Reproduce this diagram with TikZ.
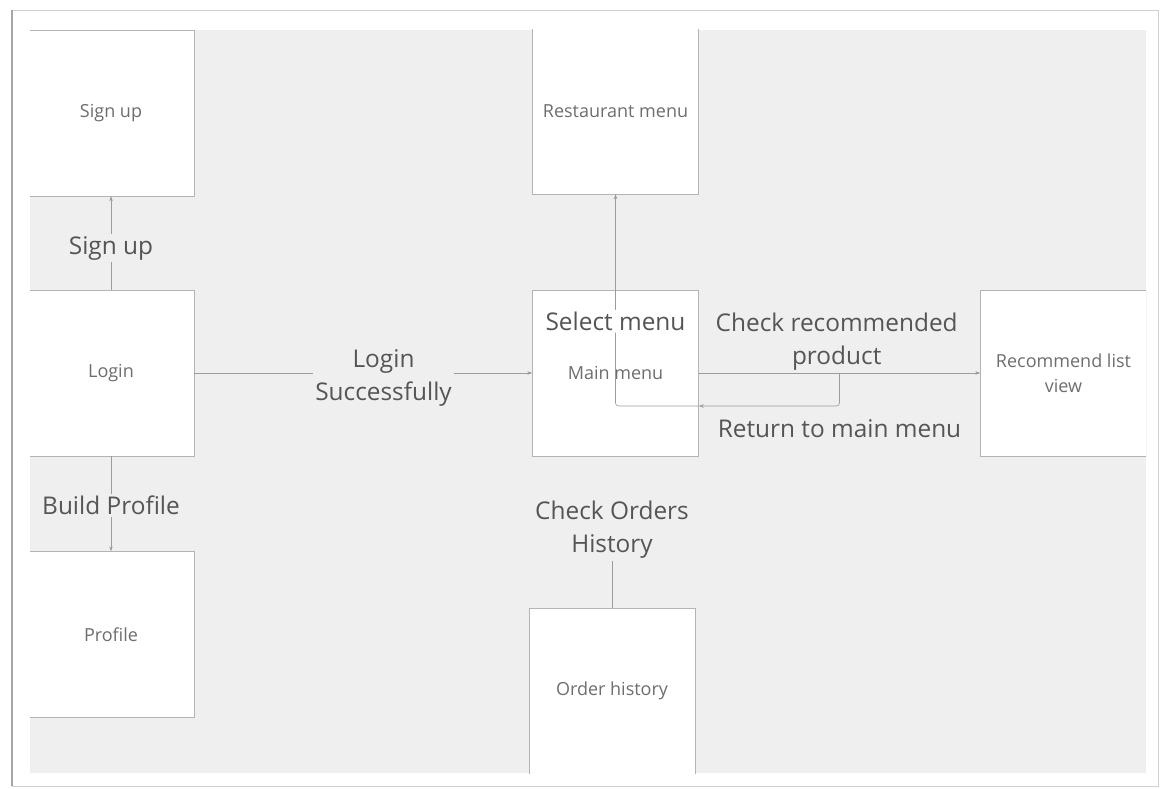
\documentclass[tikz,border=0pt]{standalone}
\usepackage{fontspec}
\setmainfont{Open Sans}
\usetikzlibrary{arrows.meta,calc}

\definecolor{canvas}{HTML}{EFEFEF}
\definecolor{wire}{HTML}{9C9C9C}
\definecolor{edge}{HTML}{B4B4B4}
\definecolor{ink}{HTML}{555555}

\begin{document}
\begin{tikzpicture}[x=1pt,y=-1pt,
    screen/.style={draw=edge, fill=white, minimum width=166pt, minimum height=166pt,
      inner sep=0pt, align=center, text=ink!85, font=\fontsize{18}{25}\selectfont},
    flow/.style={draw=wire, line width=0.6pt, -{Stealth[length=5pt,width=3.5pt]}},
    link/.style={draw=wire, line width=0.6pt},
    action/.style={fill=canvas, text=ink, align=center, inner sep=2pt, yshift=-3pt,
      font=\fontsize{24.4}{33}\selectfont}]
  \useasboundingbox (0,0) rectangle (1161,789);
  % paper
  \fill[white] (0,0) rectangle (1161,789);
  \draw[black!18] (12,10) rectangle (1158,786);
  \draw[black!35, line width=1.2pt] (12,10) -- (12,786);

  \begin{scope}
    \clip (30,30) rectangle (1146,773);
    \fill[canvas] (30,30) rectangle (1146,773);
    % screens
    \node[screen] (signup) at (111,113) {Sign up};
    \node[screen] (login) at (111,373) {Login};
    \node[screen] (profile) at (111,634.5) {Profile};
    \node[screen] (restmenu) at (615.5,111) {Restaurant menu};
    \node[screen] (mainmenu) at (615.5,373) {Main menu};
    \node[screen] (recommend) at (1063.5,373) {Recommend list\\view};
    \node[screen] (orderhist) at (612,691) {Order history};
  \end{scope}

  % transitions
  \draw[flow] (login.north) -- node[action, yshift=-2pt] {Sign up} (signup.south);
  \draw[flow] (login.south) -- node[action, yshift=1pt] {Build Profile} (profile.north);
  \draw[flow] (login.east) -- node[action, pos=0.56, yshift=-2pt] {Login\\Successfully} (mainmenu.west);
  \draw[flow] (mainmenu.east) -- node[action, fill=none, pos=0.49, yshift=3pt, above=0pt] {Check recommended\\product} (recommend.west);
  \coordinate (branch) at ($(mainmenu.east)!0.5!(recommend.west)$);
  \coordinate (back) at ([yshift=-33pt]branch);
  \draw[flow, rounded corners=3pt] (branch) -- (back)
    -- node[action, below=8pt, pos=0] {Return to main menu} (mainmenu.east |- back);
  \draw[flow, rounded corners=3pt] (mainmenu.east |- back) -- (mainmenu.center |- back)
    -- node[action, fill=white, pos=0.4, yshift=3pt] {Select menu} (restmenu.south);
  \node[action] (orderlbl) at (612,527) {Check Orders\\History};
  \draw[link] (orderlbl) -- (orderhist);
\end{tikzpicture}
\end{document}
